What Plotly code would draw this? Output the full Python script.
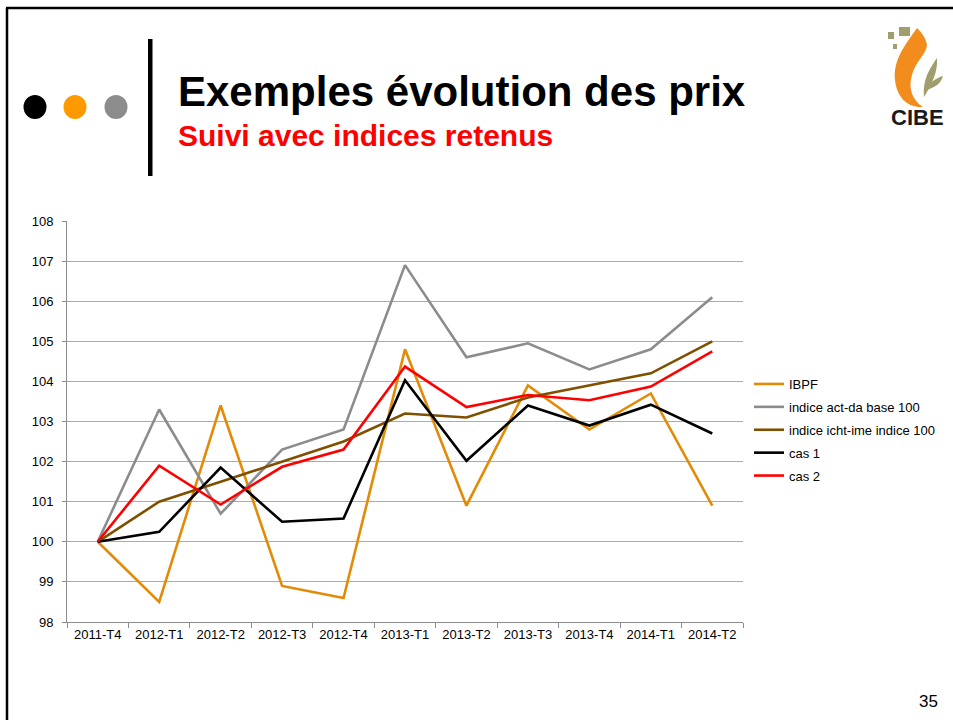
import plotly.graph_objects as go

W, H = 953, 720

categories = ["2011-T4", "2012-T1", "2012-T2", "2012-T3", "2012-T4", "2013-T1",
              "2013-T2", "2013-T3", "2013-T4", "2014-T1", "2014-T2"]
ibpf = [100, 98.5, 103.4, 98.9, 98.6, 104.8, 100.9, 103.9, 102.8, 103.7, 100.9]
act_da = [100, 103.3, 100.7, 102.3, 102.8, 106.9, 104.6, 104.95, 104.3, 104.8, 106.1]
icht_ime = [100, 101.0, 101.5, 102.0, 102.5, 103.2, 103.1, 103.6, 103.9, 104.2, 105.0]
cas1 = [100, 100.25, 101.85, 100.5, 100.58, 104.03, 102.02, 103.4, 102.9, 103.42, 102.7]
cas2 = [100, 101.9, 100.93, 101.87, 102.3, 104.37, 103.36, 103.66, 103.53, 103.87, 104.75]

series_names = ["IBPF", "indice act-da base 100", "indice icht-ime indice 100", "cas 1", "cas 2"]
series_values = [ibpf, act_da, icht_ime, cas1, cas2]
series_colors = ["#E38A06", "#8C8C8C", "#7F5000", "#000000", "#FF0000"]

title_text = "Exemples évolution des prix"
subtitle_text = "Suivi avec indices retenus"
slide_number = "35"


def px(x):
    return x / W


def py(y):
    return 1 - y / H


def path(cmds):
    out = []
    for c in cmds:
        if isinstance(c, str):
            out.append(c)
        else:
            out.append(f"{px(c[0]):.5f},{py(c[1]):.5f}")
    return " ".join(out)


fig = go.Figure()
for name, vals, col in zip(series_names, series_values, series_colors):
    fig.add_trace(go.Scatter(x=categories, y=vals, mode="lines", name=name,
                             legendgroup=name,
                             line=dict(color=col, width=2.6)))

FONT = "Liberation Sans, Arial, sans-serif"

shapes = []
# slide border
shapes.append(dict(type="line", xref="paper", yref="paper", x0=px(6), x1=px(953), y0=py(8), y1=py(8),
                   line=dict(color="black", width=2.5)))
shapes.append(dict(type="line", xref="paper", yref="paper", x0=px(7), x1=px(7), y0=py(8), y1=py(720),
                   line=dict(color="black", width=2.5)))
# dots
for cx, col in [(35, "#000000"), (75, "#FF9900"), (116, "#8C8C8C")]:
    shapes.append(dict(type="circle", xref="paper", yref="paper",
                       x0=px(cx - 11.5), x1=px(cx + 11.5), y0=py(95), y1=py(119),
                       fillcolor=col, line=dict(width=0)))
# vertical bar
shapes.append(dict(type="rect", xref="paper", yref="paper", x0=px(148), x1=px(152.5), y0=py(39), y1=py(176),
                   fillcolor="black", line=dict(width=0)))
# logo squares
olive = "#A09E6E"
for (x0, y0, x1, y1) in [(888, 32, 894, 39), (899, 27, 910, 36), (893, 44, 897, 49)]:
    shapes.append(dict(type="rect", xref="paper", yref="paper", x0=px(x0), x1=px(x1), y0=py(y0), y1=py(y1),
                       fillcolor=olive, line=dict(width=0)))
# flame
flame = path(["M", (917, 28), "C", (905, 45), (893, 60), (895, 80), "C", (897, 98), (908, 108), (923, 107),
              "C", (912, 100), (908, 88), (912, 75), "C", (915, 62), (926, 55), (927, 45),
              "C", (926, 38), (921, 32), (917, 28), "Z"])
shapes.append(dict(type="path", xref="paper", yref="paper", path=flame,
                   fillcolor="#F28C1C", line=dict(width=0)))
leaf1 = path(["M", (924, 97), "C", (922, 80), (930, 68), (937, 58), "C", (938, 72), (932, 84), (924, 97), "Z"])
leaf2 = path(["M", (926, 90), "C", (930, 82), (936, 78), (943, 76), "C", (941, 84), (934, 88), (926, 90), "Z"])
for lf in (leaf1, leaf2):
    shapes.append(dict(type="path", xref="paper", yref="paper", path=lf,
                       fillcolor=olive, line=dict(width=0)))

annotations = [
    dict(text=f"<b>{title_text}</b>", x=px(176), y=py(91), xref="paper", yref="paper",
         xanchor="left", yanchor="middle", showarrow=False,
         font=dict(family=FONT, size=42, color="black")),
    dict(text=f"<b>{subtitle_text}</b>", x=px(176), y=py(135), xref="paper", yref="paper",
         xanchor="left", yanchor="middle", showarrow=False,
         font=dict(family=FONT, size=30, color="#FF0000")),
    dict(text="<b>CIBE</b>", x=px(917), y=py(118), xref="paper", yref="paper",
         xanchor="center", yanchor="middle", showarrow=False,
         font=dict(family="Liberation Sans Narrow, Liberation Sans, Arial", size=22, color="#1A1A1A")),
    dict(text=slide_number, x=px(928), y=py(701), xref="paper", yref="paper",
         xanchor="center", yanchor="middle", showarrow=False,
         font=dict(family=FONT, size=17, color="black")),
]

fig.update_layout(
    template="none",
    width=W, height=H,
    margin=dict(l=0, r=0, t=0, b=0, pad=0, autoexpand=False),
    paper_bgcolor="white", plot_bgcolor="white",
    font=dict(family=FONT, size=13, color="black"),
    shapes=shapes,
    annotations=annotations,
    showlegend=True,
    legend=dict(x=px(749), y=py(430), xanchor="left", yanchor="middle",
                font=dict(family=FONT, size=13, color="black"),
                traceorder="grouped", tracegroupgap=3,
                bgcolor="rgba(0,0,0,0)"),
    xaxis=dict(domain=[px(67), px(743)], type="category", range=[-0.5, 10.5],
               automargin=False,
               showline=True, linecolor="#8C8C8C", linewidth=1,
               ticks="outside", tickson="boundaries", ticklen=5, tickcolor="#8C8C8C",
               showgrid=False, zeroline=False, tickfont=dict(size=13), fixedrange=True),
    yaxis=dict(domain=[py(622), py(221)], range=[98, 108], dtick=1,
               automargin=False,
               showline=True, linecolor="#8C8C8C", linewidth=1,
               ticks="outside", ticklen=4, tickcolor="#8C8C8C",
               showgrid=True, gridcolor="#ABABAB", gridwidth=1.3,
               zeroline=False, tickfont=dict(size=13), ticklabelstandoff=6, fixedrange=True),
)

fig.write_html("out.html", config={"displayModeBar": False},
               post_script="document.body.style.margin='0';document.body.style.overflow='hidden';")
